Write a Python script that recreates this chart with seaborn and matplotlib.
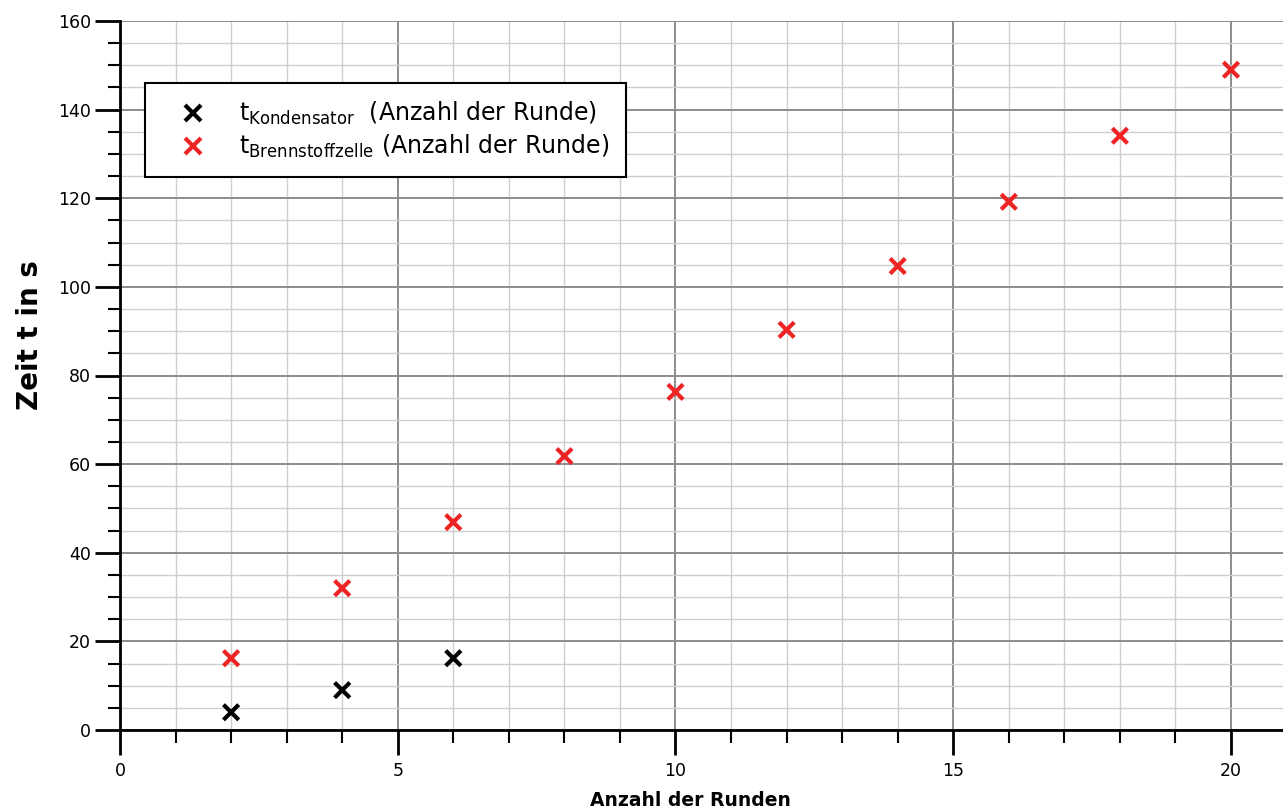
import pandas as pd
import matplotlib
matplotlib.use("Agg")
import matplotlib.pyplot as plt
from matplotlib.ticker import MultipleLocator
import seaborn as sns

# Values
runden_kondensator = [2, 4, 6]
zeit_kondensator = [4, 9, 16.2]
runden_brennstoff = [2, 4, 6, 8, 10, 12, 14, 16, 18, 20]
zeit_brennstoff = [16.2, 32, 46.9, 61.8, 76.3, 90.3, 104.7, 119.2, 134.1, 149]

label_k = r"t$_{\mathregular{Kondensator}}$  (Anzahl der Runde)"
label_b = r"t$_{\mathregular{Brennstoffzelle}}$ (Anzahl der Runde)"

df = pd.DataFrame({
    "Runden": runden_kondensator + runden_brennstoff,
    "Zeit": zeit_kondensator + zeit_brennstoff,
    "Reihe": [label_k] * len(runden_kondensator) + [label_b] * len(runden_brennstoff),
})

sns.set_style("white")
plt.rcParams["font.family"] = ["DejaVu Sans"]
plt.rcParams["mathtext.default"] = "regular"
plt.rcParams["text.color"] = "black"
plt.rcParams["axes.labelcolor"] = "black"
plt.rcParams["xtick.color"] = "black"
plt.rcParams["ytick.color"] = "black"

fig = plt.figure(figsize=(12.83, 8.10), dpi=100)
ax = fig.add_axes([120 / 1283, 80 / 810, 1163 / 1283, 709 / 810])

sns.scatterplot(data=df, x="Runden", y="Zeit", hue="Reihe",
                palette={label_k: "black", label_b: "#ee2424"},
                marker="x", s=120, linewidth=3, ax=ax, zorder=3)

ax.set_xlim(0, 1163 / 55.55)
ax.set_ylim(0, 160)

# Grid
ax.xaxis.set_major_locator(MultipleLocator(5))
ax.xaxis.set_minor_locator(MultipleLocator(1))
ax.yaxis.set_major_locator(MultipleLocator(20))
ax.yaxis.set_minor_locator(MultipleLocator(5))
ax.grid(which="major", color="#8c8c8c", linewidth=1.4, zorder=0)
ax.grid(which="minor", color="#cfcfcf", linewidth=1.0, zorder=0)
ax.set_axisbelow(True)

for side in ["top", "right"]:
    ax.spines[side].set_visible(False)
for side in ["left", "bottom"]:
    ax.spines[side].set_color("black")
    ax.spines[side].set_linewidth(2)

ax.tick_params(which="major", direction="out", length=18, width=2, color="black",
               labelsize=12.5, bottom=True, left=True)
ax.tick_params(which="minor", direction="out", length=9, width=1.5, color="black",
               bottom=True, left=True)
ax.tick_params(axis="x", which="major", pad=5)
ax.tick_params(axis="y", which="major", pad=3)

ax.set_xlabel("Anzahl der Runden", fontsize=13.5, fontweight="bold")
ax.set_ylabel("Zeit t in s", fontsize=20, fontweight="bold")
ax.xaxis.set_label_coords((690 - 120) / 1163, -(800 - 730) / 709, transform=ax.transAxes)
ax.xaxis.label.set_va("center")
ax.yaxis.set_label_coords(-(120 - 30) / 1163, (730 - 335) / 709, transform=ax.transAxes)
ax.yaxis.label.set_va("center")

leg = ax.legend(loc="upper left", bbox_to_anchor=(25 / 1163, (730 - 83) / 709),
                borderaxespad=0, fontsize=17, frameon=True, fancybox=False,
                handletextpad=0.65, borderpad=0.72, labelspacing=0.25,
                handlelength=2.6)
leg.get_frame().set_edgecolor("black")
leg.get_frame().set_linewidth(1.5)
leg.get_frame().set_alpha(1)

fig.savefig("out.png", dpi=100)
